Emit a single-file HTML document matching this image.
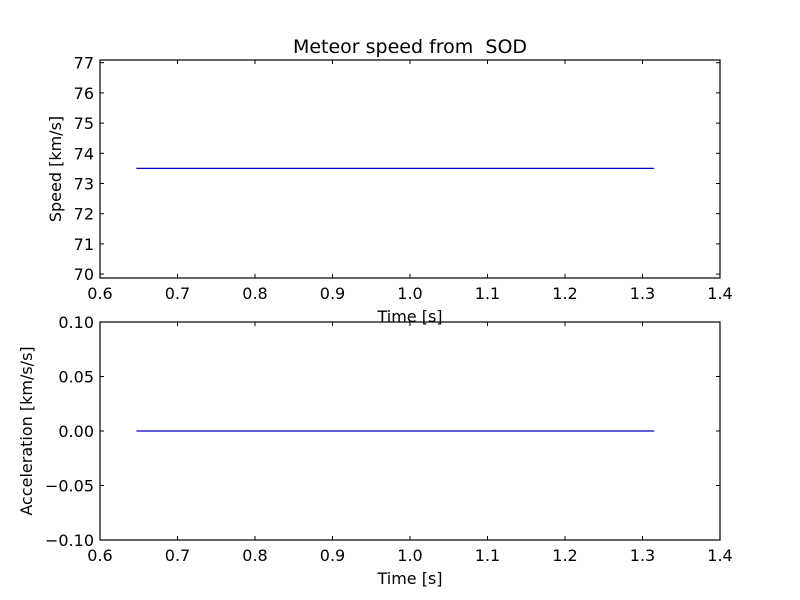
<!DOCTYPE html>
<html><head><meta charset="utf-8"><style>body{margin:0;background:#fff}svg{display:block;font-family:"DejaVu Sans","Liberation Sans",sans-serif}</style></head>
<body>
<svg id="c" width="800" height="600"></svg>
<script>
const times=[0.647,0.78,0.91,1.05,1.18,1.315];
const speeds=[73.5,73.5,73.5,73.5,73.5,73.5];
const accels=[0,0,0,0,0,0];
const xTicks=[0.6,0.7,0.8,0.9,1.0,1.1,1.2,1.3,1.4];
const speedTicks=[70,71,72,73,74,75,76,77];
const accTicks=[-0.1,-0.05,0,0.05,0.1];
const svg=document.getElementById('c');
const NS='http://www.w3.org/2000/svg';
function mk(t,a,p){const e=document.createElementNS(NS,t);for(const k in a)e.setAttribute(k,a[k]);(p||svg).appendChild(e);return e;}
const X0=100,X1=720;
const sx=v=>X0+(v-0.6)/(0.8)*(X1-X0);
function panel(name,top,bot,ymin,ymax,yticks,fmt,vals,ylabel){
  const g=mk('g',{});
  
  
  const sy=v=>bot-(v-ymin)/(ymax-ymin)*(bot-top);
  xTicks.forEach(t=>{const x=sx(t);
    mk('line',{x1:x,x2:x,y1:bot,y2:bot-4,stroke:'#000'},g);
    mk('line',{x1:x,x2:x,y1:top,y2:top+4,stroke:'#000'},g);
    const tx=mk('text',{x:x,y:bot+21,'text-anchor':'middle','font-size':16},g);tx.textContent=t.toFixed(1);
    });
  yticks.forEach(t=>{const y=sy(t);
    mk('line',{x1:X0,x2:X0+4,y1:y,y2:y,stroke:'#000'},g);
    mk('line',{x1:X1,x2:X1-4,y1:y,y2:y,stroke:'#000'},g);
    const tx=mk('text',{x:X0-6,y:y+6,'text-anchor':'end','font-size':16},g);tx.textContent=fmt(t);
    });
  const pl=mk('polyline',{points:times.map((t,i)=>sx(t)+','+sy(vals[i])).join(' '),fill:'none',stroke:'#0000cc','stroke-width':1.2},g);
  
  const r=mk('rect',{x:X0,y:top,width:X1-X0,height:bot-top,fill:'none',stroke:'#000','stroke-width':1.2},g);
  
  const xl=mk('text',{x:410,y:bot+44,'text-anchor':'middle','font-size':16},g);xl.textContent='Time [s]';
  
  const yx=name==='speed-panel'?61:32;
  const yl=mk('text',{x:yx,y:(top+bot)/2,'text-anchor':'middle','font-size':16,transform:`rotate(-90 ${yx} ${(top+bot)/2})`},g);yl.textContent=ylabel;
  
}
panel('speed-panel',60,278,69.87,77.09,speedTicks,v=>String(v),speeds,'Speed [km/s]');
panel('acceleration-panel',322,540,-0.1,0.1,accTicks,v=>(v<0?'\u2212':'')+Math.abs(v).toFixed(2),accels,'Acceleration [km/s/s]');
const ti=mk('text',{x:410,y:53,'text-anchor':'middle','font-size':19});ti.textContent='Meteor speed from\u00a0 SOD';

</script>
</body></html>
